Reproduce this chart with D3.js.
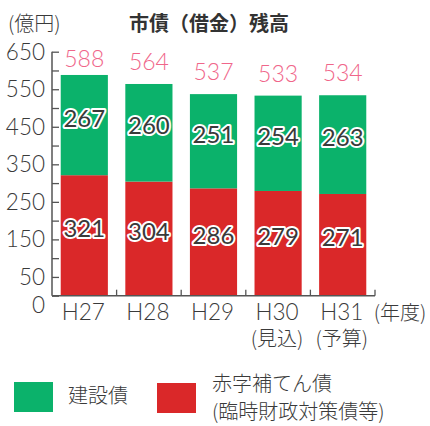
<!DOCTYPE html>
<html><head><meta charset="utf-8">
<script src="https://cdn.jsdelivr.net/npm/d3@7/dist/d3.min.js"></script>
<style>
body{margin:0;background:#fff;}
text{font-family:"Noto Sans CJK JP","Noto Sans",sans-serif;}
text.num{font-family:Lato,"Noto Sans CJK JP",sans-serif;}
</style></head>
<body><svg id="c" width="430" height="426"></svg>
<script>
const categories = ["H27","H28","H29","H30","H31"];
const subLabels = ["","","","(見込)","(予算)"];
const construction = [267,260,251,254,263];
const deficit = [321,304,286,279,271];
const totals = [588,564,537,533,534];
const yTickLabels = [0,50,150,250,350,450,550,650];
const yTicks = d3.range(0,651,50);
const seriesNames = ["建設債","赤字補てん債","(臨時財政対策債等)"];

const green = "#0bb26b", red = "#da2829", pink = "#f0668a", ink = "#3a3a3a";
const svg = d3.select("#c");
const x = d3.scaleBand().domain(categories).range([52,375]).paddingInner(0.27).paddingOuter(0.135);
const y = d3.scaleLinear().domain([0,650]).range([295.7,51.7]);

// bars
const g = svg.append("g");
categories.forEach((c,i)=>{
  g.append("rect").attr("x",x(c)).attr("width",x.bandwidth())
    .attr("y",y(deficit[i])).attr("height",y(0)-y(deficit[i])).attr("fill",red);
  g.append("rect").attr("x",x(c)).attr("width",x.bandwidth())
    .attr("y",y(deficit[i]+construction[i])).attr("height",y(deficit[i])-y(deficit[i]+construction[i])).attr("fill",green);
});

// axes
const yAxis = d3.axisRight(y).tickValues(yTicks).tickSize(7).tickFormat("");
const ya = svg.append("g").attr("transform","translate(52,0)").call(yAxis);
ya.select(".domain").remove();
ya.selectAll("line").attr("stroke","#555").attr("stroke-width",1.3);
svg.append("line").attr("x1",52).attr("x2",52).attr("y1",y(650)).attr("y2",y(0)).attr("stroke","#555").attr("stroke-width",1.5);
svg.append("line").attr("x1",52).attr("x2",375).attr("y1",y(0)).attr("y2",y(0)).attr("stroke","#555").attr("stroke-width",1.5);
const step = x.step();
categories.forEach((c,i)=>{
  const bx = x(c)+x.bandwidth()/2+step/2;
  svg.append("line").attr("x1",bx).attr("x2",bx).attr("y1",y(0)).attr("y2",y(0)-6).attr("stroke","#555").attr("stroke-width",1.3);
});

svg.selectAll(".yl").data(yTickLabels).join("text").attr("class","num")
  .attr("x",45).attr("y",d=>y(d)+(d===0?9:0)).attr("dy","0.36em").attr("text-anchor","end")
  .attr("font-size",22.5).attr("font-weight",300).attr("fill",ink).text(d=>d);

// x labels
categories.forEach((c,i)=>{
  const cx = x(c)+x.bandwidth()/2-1;
  svg.append("text").attr("class","num").attr("x",cx).attr("y",320).attr("text-anchor","middle")
    .attr("font-size",22.5).attr("font-weight",300).attr("fill",ink).text(c);
  if(subLabels[i]) svg.append("text").attr("x",cx).attr("y",346).attr("text-anchor","middle")
    .attr("font-size",20).attr("font-weight",300).attr("fill",ink).text(subLabels[i]);
});
svg.append("text").attr("x",400).attr("y",320).attr("text-anchor","middle")
  .attr("font-size",20).attr("font-weight",300).attr("fill",ink).text("(年度)");

// totals
categories.forEach((c,i)=>{
  svg.append("text").attr("class","num").attr("x",x(c)+x.bandwidth()/2).attr("y",Math.max(y(totals[i])-14,67))
    .attr("text-anchor","middle").attr("font-size",23).attr("font-weight",300).attr("fill",pink).text(totals[i]);
});

// inner labels
function inner(cx,cy,t){
  svg.append("text").attr("class","num").attr("x",cx).attr("y",cy).attr("dy","0.36em").attr("text-anchor","middle")
    .attr("font-size",24).attr("fill",ink).attr("stroke","#fff").attr("stroke-width",4)
    .attr("stroke-linejoin","round").attr("paint-order","stroke").text(t);
}
categories.forEach((c,i)=>{
  const cx = x(c)+x.bandwidth()/2;
  inner(cx,(y(deficit[i])+y(deficit[i]+construction[i]))/2-7,construction[i]);
  inner(cx,(y(0)+y(deficit[i]))/2-7,deficit[i]);
});

// title
svg.append("text").attr("x",8).attr("y",31).attr("font-size",20).attr("font-weight",300).attr("fill",ink).text("(億円)");
svg.append("text").attr("x",209).attr("y",31).attr("text-anchor","middle").attr("font-size",20).attr("font-weight",700).attr("fill","#333").text("市債（借金）残高");

// legend
svg.append("rect").attr("x",14).attr("y",382).attr("width",39).attr("height",30).attr("fill",green);
svg.append("text").attr("x",68).attr("y",403).attr("font-size",20).attr("font-weight",300).attr("fill",ink).text(seriesNames[0]);
svg.append("rect").attr("x",157).attr("y",383).attr("width",39).attr("height",30).attr("fill",red);
svg.append("text").attr("x",212).attr("y",391).attr("font-size",20).attr("font-weight",300).attr("fill",ink).text(seriesNames[1]);
svg.append("text").attr("x",212).attr("y",419).attr("font-size",20).attr("font-weight",300).attr("fill",ink).text(seriesNames[2]);
</script></body></html>
